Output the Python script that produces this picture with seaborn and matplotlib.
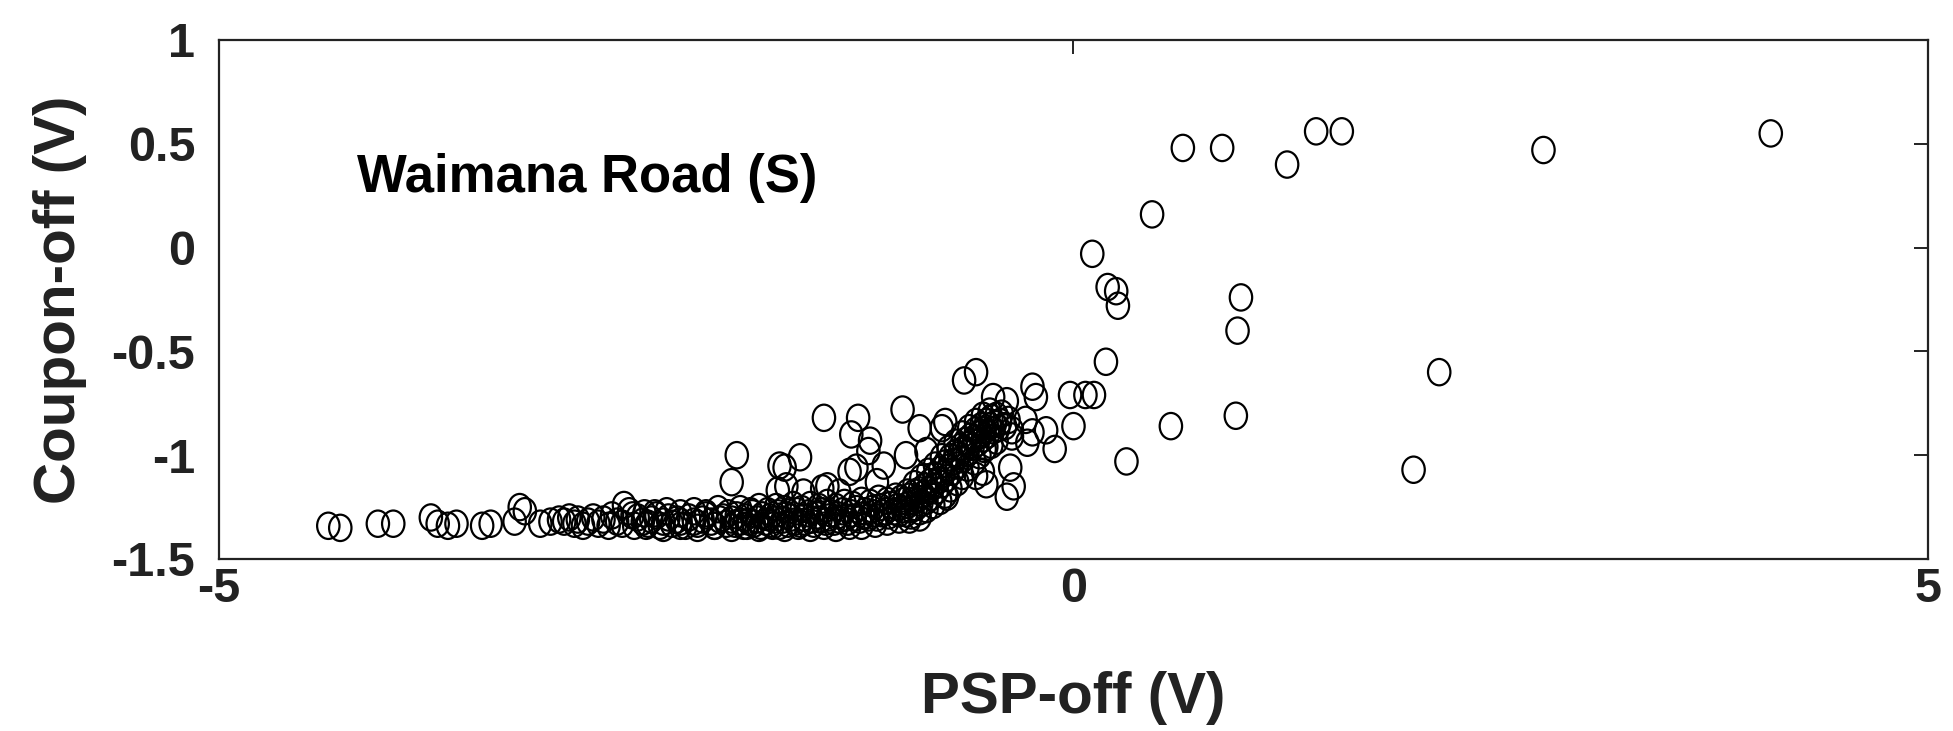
import numpy as np
import pandas as pd
import matplotlib
matplotlib.use("Agg")
import matplotlib.pyplot as plt
from matplotlib.path import Path
import seaborn as sns

# ---- measured pairs: (PSP-off [V], Coupon-off [V]) ----
left_tail = [
    (-4.36, -1.34), (-4.29, -1.35), (-4.07, -1.33), (-3.98, -1.33),
    (-3.76, -1.30), (-3.72, -1.33), (-3.66, -1.34), (-3.61, -1.33),
    (-3.46, -1.34), (-3.41, -1.33), (-3.27, -1.32), (-3.24, -1.25),
    (-3.21, -1.27), (-3.12, -1.33), (-3.06, -1.32), (-3.01, -1.31),
]

flat_band = [
    (-2.98, -1.32), (-2.95, -1.30), (-2.92, -1.33), (-2.90, -1.31), (-2.87, -1.34),
    (-2.84, -1.32), (-2.81, -1.30), (-2.78, -1.33), (-2.75, -1.31), (-2.72, -1.34),
    (-2.70, -1.29), (-2.67, -1.32), (-2.64, -1.33), (-2.63, -1.24), (-2.60, -1.27),
    (-2.57, -1.34), (-2.55, -1.30), (-2.52, -1.32), (-2.49, -1.33), (-2.47, -1.31),
    (-2.44, -1.29), (-2.42, -1.34), (-2.40, -1.32), (-2.37, -1.30), (-2.35, -1.33),
    (-2.32, -1.31), (-2.30, -1.32), (-2.27, -1.34), (-2.25, -1.30), (-2.22, -1.32),
    (-2.20, -1.33), (-2.17, -1.31), (-2.15, -1.29), (-2.12, -1.32), (-2.10, -1.34),
    (-2.07, -1.31), (-2.05, -1.30), (-2.03, -1.33),
]

mid_band = [
    (-2.00, -1.31), (-1.98, -1.33), (-1.97, -1.29), (-1.95, -1.32), (-1.93, -1.34),
    (-1.92, -1.30), (-1.90, -1.32), (-1.88, -1.28), (-1.87, -1.33), (-1.85, -1.31),
    (-1.83, -1.34), (-1.82, -1.29), (-1.80, -1.32), (-1.78, -1.30), (-1.77, -1.33),
    (-1.75, -1.31), (-1.73, -1.28), (-1.72, -1.34), (-1.70, -1.31), (-1.68, -1.29),
    (-1.67, -1.33), (-1.65, -1.30), (-1.63, -1.32), (-1.62, -1.27), (-1.60, -1.33),
    (-1.58, -1.30), (-1.57, -1.32), (-1.55, -1.28), (-1.53, -1.31), (-1.52, -1.33),
    (-1.50, -1.29), (-1.48, -1.31), (-1.47, -1.27), (-1.45, -1.32), (-1.43, -1.30),
    (-1.42, -1.28), (-1.40, -1.32), (-1.38, -1.29), (-1.37, -1.31), (-1.35, -1.27),
    (-1.33, -1.30), (-1.32, -1.32), (-1.30, -1.28), (-1.28, -1.30), (-1.27, -1.26),
    (-1.25, -1.31), (-1.23, -1.29), (-1.22, -1.27), (-1.20, -1.30), (-1.18, -1.26),
    (-1.17, -1.28), (-1.15, -1.30), (-1.13, -1.25), (-1.12, -1.28), (-1.10, -1.27),
    (-1.08, -1.29), (-1.07, -1.24), (-1.05, -1.27), (-1.03, -1.25), (-1.02, -1.28),
]

band_upper = [
    (-2.58, -1.29), (-2.51, -1.28), (-2.45, -1.28), (-2.38, -1.27),
    (-2.30, -1.28), (-2.22, -1.27), (-2.15, -1.28), (-2.08, -1.26), (-2.02, -1.28),
    (-1.95, -1.26), (-1.89, -1.27), (-1.84, -1.25), (-1.79, -1.27), (-1.74, -1.25),
    (-1.69, -1.26), (-1.64, -1.24), (-1.59, -1.26), (-1.54, -1.24), (-1.49, -1.25),
    (-1.44, -1.23), (-1.39, -1.25), (-1.34, -1.23), (-1.29, -1.24), (-1.24, -1.22),
    (-1.19, -1.23), (-1.14, -1.21), (-1.09, -1.22), (-1.04, -1.20), (-1.01, -1.21),
    (-0.97, -1.18), (-0.93, -1.14), (-0.89, -1.11), (-0.85, -1.08), (-0.81, -1.05),
    (-0.77, -1.01), (-0.73, -0.97), (-0.69, -0.94), (-0.65, -0.90), (-0.61, -0.87),
    (-0.57, -0.84), (-0.53, -0.81), (-0.49, -0.79),
]

band_lower = [
    (-2.50, -1.34), (-2.40, -1.35), (-2.30, -1.34), (-2.20, -1.35), (-2.10, -1.34),
    (-2.00, -1.35), (-1.91, -1.34), (-1.84, -1.35), (-1.76, -1.34), (-1.69, -1.35),
    (-1.61, -1.34), (-1.54, -1.35), (-1.46, -1.34), (-1.39, -1.35), (-1.31, -1.34),
    (-1.24, -1.34), (-1.16, -1.33), (-1.09, -1.32), (-1.02, -1.31), (-0.96, -1.31),
    (-0.90, -1.30),
]

rise_band = [
    (-1.00, -1.26), (-0.99, -1.22), (-0.98, -1.28), (-0.97, -1.24), (-0.96, -1.20),
    (-0.95, -1.26), (-0.94, -1.22), (-0.93, -1.18), (-0.92, -1.25), (-0.91, -1.21),
    (-0.90, -1.17), (-0.89, -1.23), (-0.88, -1.19), (-0.87, -1.15), (-0.86, -1.22),
    (-0.85, -1.17), (-0.84, -1.13), (-0.83, -1.20), (-0.82, -1.15), (-0.81, -1.10),
    (-0.80, -1.17), (-0.79, -1.12), (-0.78, -1.07), (-0.77, -1.14), (-0.76, -1.09),
    (-0.75, -1.04), (-0.74, -1.11), (-0.73, -1.06), (-0.72, -1.01), (-0.71, -1.08),
    (-0.70, -1.03), (-0.69, -0.99), (-0.68, -1.05), (-0.67, -1.00), (-0.66, -0.96),
    (-0.65, -1.02), (-0.64, -0.97), (-0.63, -0.93), (-0.62, -0.99), (-0.61, -0.95),
    (-0.60, -0.91), (-0.59, -0.96), (-0.58, -0.92), (-0.57, -0.88), (-0.56, -0.94),
    (-0.55, -0.90), (-0.54, -0.86), (-0.53, -0.92), (-0.52, -0.88), (-0.51, -0.84),
    (-0.50, -0.90), (-0.49, -0.86), (-0.48, -0.82), (-0.47, -0.88), (-0.46, -0.85),
    (-0.45, -0.81), (-0.44, -0.87), (-0.43, -0.84), (-0.42, -0.80), (-0.40, -0.86),
    (-0.38, -0.83), (-0.36, -0.88),
]

rise_lower = [
    (-0.95, -1.29), (-0.90, -1.27), (-0.86, -1.26), (-0.82, -1.24), (-0.78, -1.22),
    (-0.75, -1.19), (-0.72, -1.16), (-0.68, -1.13), (-0.65, -1.10), (-0.62, -1.06),
    (-0.58, -1.03), (-0.55, -1.00), (-0.52, -0.97), (-0.48, -0.95), (-0.45, -0.93),
]

scatter_above = [
    (-1.97, -1.00), (-2.00, -1.13), (-1.72, -1.05), (-1.60, -1.01), (-1.73, -1.17),
    (-1.58, -1.18), (-1.69, -1.06), (-1.68, -1.15), (-1.46, -0.82), (-1.44, -1.15),
    (-1.37, -1.18), (-1.26, -0.82), (-1.30, -0.90), (-1.19, -0.93), (-1.20, -0.98),
    (-1.27, -1.06), (-1.31, -1.08), (-1.11, -1.05), (-1.15, -1.13), (-1.47, -1.16),
    (-1.00, -0.78), (-0.90, -0.87), (-0.98, -1.00), (-0.75, -0.84), (-0.64, -0.64),
    (-0.57, -0.60), (-0.47, -0.72), (-0.39, -0.74), (-0.24, -0.67), (-0.22, -0.72),
    (-0.16, -0.88), (-0.37, -1.06), (-0.39, -1.20), (-0.51, -1.14), (-0.57, -1.10),
    (-0.36, -0.91), (-0.27, -0.94), (-0.51, -0.96), (-0.74, -1.20), (-0.86, -0.98),
    (-0.77, -0.87), (-0.28, -0.83), (-0.24, -0.89), (-0.35, -1.15), (-0.53, -1.08),
]

right_points = [
    (4.08, 0.55), (2.75, 0.47), (1.57, 0.56), (1.42, 0.56), (1.25, 0.40),
    (0.87, 0.48), (0.64, 0.48), (0.46, 0.16), (0.11, -0.03), (0.20, -0.19),
    (0.25, -0.21), (0.26, -0.28), (0.98, -0.24), (0.96, -0.40), (0.19, -0.55),
    (2.14, -0.60), (0.57, -0.86), (0.95, -0.81), (0.31, -1.03), (1.99, -1.07),
    (-0.02, -0.71), (0.07, -0.71), (0.12, -0.71), (0.00, -0.86), (-0.11, -0.97),
]

x_ticks = [-5, 0, 5]
y_ticks = [-1.5, -1, -0.5, 0, 0.5, 1]
y_tick_labels = ["-1.5", "-1", "-0.5", "0", "0.5", "1"]
site_label = "Waimana Road (S)"

groups = [left_tail, flat_band, mid_band, band_upper, band_lower,
          rise_band, rise_lower, scatter_above, right_points]
psp_off = [p[0] for g in groups for p in g]
coupon_off = [p[1] for g in groups for p in g]
df = pd.DataFrame({"PSP-off (V)": psp_off, "Coupon-off (V)": coupon_off})

sns.set_style("white")
plt.rcParams["font.family"] = ["Liberation Sans", "DejaVu Sans"]
plt.rcParams["font.weight"] = "bold"
plt.rcParams["axes.unicode_minus"] = False

ink = "#222222"

# slightly tall open ellipse marker
circ = Path.unit_circle()
verts = circ.vertices.copy()
verts[:, 0] *= 0.85
ellipse = Path(verts, circ.codes)

fig = plt.figure(figsize=(19.53, 7.31), dpi=100)
ax = fig.add_axes([0.1121, 0.2353, 0.8751, 0.7100])

sns.scatterplot(data=df, x="PSP-off (V)", y="Coupon-off (V)", ax=ax,
                marker=ellipse, s=360, facecolor="none", edgecolor="black",
                linewidth=1.6, legend=False)

ax.set_xlim(-5, 5)
ax.set_ylim(-1.5, 1)
ax.set_xticks(x_ticks)
ax.set_xticklabels([str(v) for v in x_ticks])
ax.set_yticks(y_ticks)
ax.set_yticklabels(y_tick_labels)

for sp in ax.spines.values():
    sp.set_visible(True)
    sp.set_color(ink)
    sp.set_linewidth(1.6)

ax.tick_params(axis="both", direction="in", length=10, width=1.4, color=ink,
               labelsize=35, labelcolor=ink, top=True, right=True)
ax.tick_params(axis="y", pad=17)
ax.tick_params(axis="x", pad=6)
for lab in ax.get_xticklabels() + ax.get_yticklabels():
    lab.set_fontweight("bold")

ax.set_xlabel("PSP-off (V)", fontsize=42, fontweight="bold", color=ink)
ax.set_ylabel("Coupon-off (V)", fontsize=42, fontweight="bold", color=ink)
ax.xaxis.set_label_coords(0.5, -0.215)
ax.yaxis.set_label_coords(-0.077, 0.5)

ax.text(-4.19, 0.27, site_label, fontsize=38, fontweight="bold", color="black",
        ha="left", va="baseline")

fig.savefig("out.png", dpi=100, facecolor="white")
